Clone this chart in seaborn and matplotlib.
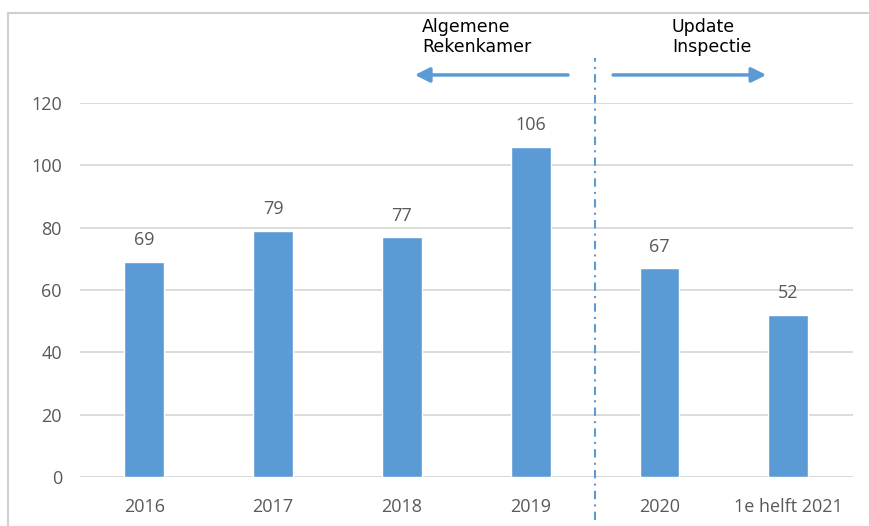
import matplotlib
matplotlib.use("Agg")
import matplotlib.pyplot as plt
import matplotlib.transforms as mtransforms
from matplotlib.lines import Line2D
import seaborn as sns
import pandas as pd

# data
periods = ["2016", "2017", "2018", "2019", "2020", "1e helft 2021"]
counts = [69, 79, 77, 106, 67, 52]
yticks = [0, 20, 40, 60, 80, 100, 120]
left_label = "Algemene\nRekenkamer"
right_label = "Update\nInspectie"

BLUE = "#5B9BD5"
GREY = "#595959"

sns.set_theme(style="white")
plt.rcParams["font.family"] = ["Open Sans", "DejaVu Sans"]

df = pd.DataFrame({"periode": periods, "aantal": counts})

fig = plt.figure(figsize=(8.7, 5.26), dpi=100)
ax = fig.add_axes([0.092, 0.0932, 0.888, 0.711])

sns.barplot(data=df, x="periode", y="aantal", color=BLUE, width=0.31,
            saturation=1, ax=ax)

ax.set_ylim(0, 120)
ax.set_xlim(-0.5, 5.5)
ax.set_yticks(yticks)
ax.set_xlabel("")
ax.set_ylabel("")
ax.yaxis.grid(True, color="#D9D9D9", lw=1.3)
ax.set_axisbelow(True)
sns.despine(ax=ax, left=True, bottom=True, top=True, right=True)
ax.axhline(0, color="#D9D9D9", lw=1.3, zorder=0)
ax.tick_params(axis="both", length=0, labelsize=13, colors=GREY)
ax.tick_params(axis="y", pad=13)
ax.tick_params(axis="x", pad=15)

ax.bar_label(ax.containers[0], padding=9, fontsize=13, color=GREY)

# dividing line between 2019 and 2020
trans = mtransforms.blended_transform_factory(ax.transData, ax.transAxes)
ax.plot([3.5, 3.5], [-0.115, 1.12], transform=trans, color=BLUE, lw=1.5,
        linestyle=(0, (4, 2.5, 1, 2.5)), clip_on=False)

# arrows
arrow_kw = dict(arrowstyle="-|>", lw=2.5, color=BLUE, mutation_scale=22,
                shrinkA=0, shrinkB=0)
ax.annotate("", xy=(2.10, 1.075), xytext=(3.29, 1.075), xycoords=trans,
            textcoords=trans, arrowprops=arrow_kw, annotation_clip=False)
ax.annotate("", xy=(4.83, 1.075), xytext=(3.64, 1.075), xycoords=trans,
            textcoords=trans, arrowprops=arrow_kw, annotation_clip=False)

ax.text(2.155, 1.228, left_label, transform=trans, ha="left", va="top",
        fontsize=12.5, color="black", family="DejaVu Sans", linespacing=1.15)
ax.text(4.096, 1.228, right_label, transform=trans, ha="left", va="top",
        fontsize=12.5, color="black", family="DejaVu Sans", linespacing=1.15)

# outer frame lines (top and left)
frame_col = "#D0D0D0"
fig.add_artist(Line2D([8 / 870, 1], [1 - 13 / 526, 1 - 13 / 526],
                      color=frame_col, lw=1.5))
fig.add_artist(Line2D([8 / 870, 8 / 870], [0, 1 - 13 / 526],
                      color=frame_col, lw=1.5))

fig.savefig("out.png", dpi=100)
